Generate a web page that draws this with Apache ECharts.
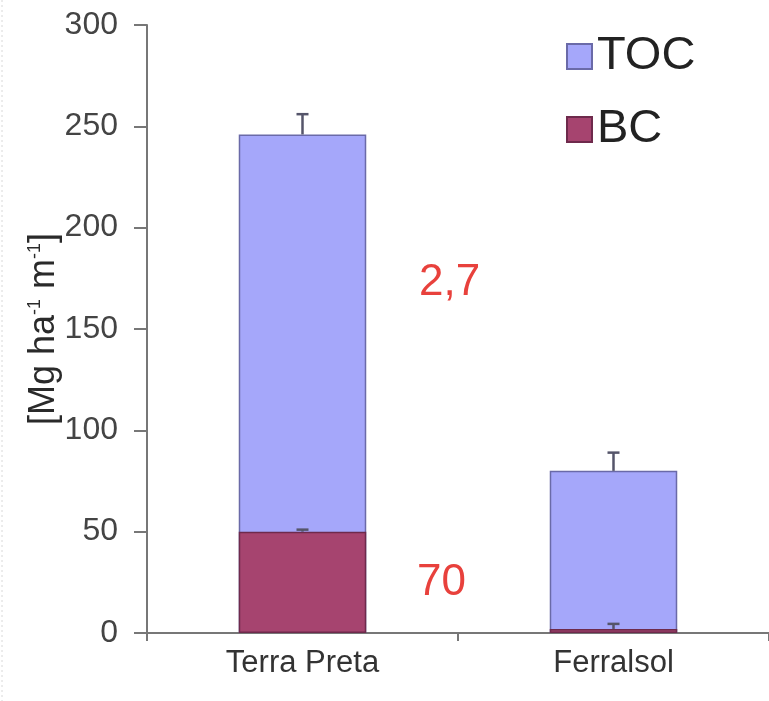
<!DOCTYPE html>
<html>
<head>
<meta charset="utf-8">
<script src="https://cdn.jsdelivr.net/npm/echarts@6/dist/echarts.min.js"></script>
<style>
  html, body { margin: 0; padding: 0; background: #fff; }
  #chart { width: 769px; height: 701px; }
</style>
</head>
<body>
<div id="chart"></div>
<script>
// Soil carbon stocks: total organic carbon vs. black carbon
const categories = ['Terra Preta', 'Ferralsol'];
const tocValues = [246, 80];     // total organic carbon, Mg ha-1 m-1
const bcValues = [50, 2];        // black carbon, Mg ha-1 m-1
const tocErrors = [10, 9];
const bcErrors = [1, 2.5];
const yTicks = [0, 50, 100, 150, 200, 250, 300];
const ratioNotes = ['2,7', '70'];

const font = '"Liberation Sans", Arial, sans-serif';

function errorSeries(values, errors) {
  return {
    type: 'custom',
    z: 5,
    silent: true,
    data: values.map((v, i) => [i, v, errors[i]]),
    renderItem(params, api) {
      const base = api.coord([api.value(0), api.value(1)]);
      const top = api.coord([api.value(0), api.value(1) + api.value(2)]);
      const half = 6;
      return {
        type: 'group',
        children: [
          { type: 'line', shape: { x1: base[0], y1: base[1], x2: top[0], y2: top[1] },
            style: { stroke: '#55556a', lineWidth: 2.5 } },
          { type: 'line', shape: { x1: top[0] - half, y1: top[1], x2: top[0] + half, y2: top[1] },
            style: { stroke: '#55556a', lineWidth: 2.5 } }
        ]
      };
    }
  };
}

const chart = echarts.init(document.getElementById('chart'));
chart.setOption({
  animation: false,
  backgroundColor: '#fff',
  grid: { left: 147, right: 0, top: 25, bottom: 68 },
  legend: {
    data: ['TOC', 'BC'],
    orient: 'vertical',
    left: 561,
    top: 28,
    itemWidth: 25,
    itemHeight: 25,
    itemGap: 26,
    icon: 'rect',
    textStyle: { fontFamily: font, fontSize: 47, color: '#222' }
  },
  xAxis: {
    type: 'category',
    data: categories,
    axisLine: { lineStyle: { color: '#777', width: 2 } },
    axisTick: { show: true, length: 8, lineStyle: { color: '#777', width: 2 } },
    axisLabel: { fontFamily: font, fontSize: 31, color: '#333', margin: 15 }
  },
  yAxis: {
    type: 'value',
    min: yTicks[0],
    max: yTicks[yTicks.length - 1],
    interval: 50,
    splitLine: { show: false },
    axisLine: { show: true, lineStyle: { color: '#777', width: 2 } },
    axisTick: { show: true, length: 13, lineStyle: { color: '#777', width: 2 } },
    axisLabel: { fontFamily: font, fontSize: 32, color: '#444', margin: 29 },
    name: '{b|[Mg ha}{s|-1}{b| m}{s|-1}{b|]}',
    nameLocation: 'middle',
    nameRotate: 90,
    nameGap: 85,
    nameMoveOverlap: false,
    nameTextStyle: {
      rich: {
        b: { fontFamily: font, fontSize: 36, color: '#2a2a2a', lineHeight: 36, verticalAlign: 'bottom' },
        s: { fontFamily: font, fontSize: 18, color: '#2a2a2a', lineHeight: 36, verticalAlign: 'top' }
      }
    }
  },
  series: [
    {
      name: 'TOC',
      type: 'bar',
      barWidth: '41%',
      data: tocValues,
      itemStyle: { color: '#a5a7fa', borderColor: '#6a6aa8', borderWidth: 1.5 }
    },
    {
      name: 'BC',
      type: 'bar',
      barWidth: '41%',
      barGap: '-100%',
      data: bcValues,
      itemStyle: { color: '#a6446f', borderColor: '#6e2a4c', borderWidth: 1.5 }
    },
    errorSeries(tocValues, tocErrors),
    errorSeries(bcValues, bcErrors)
  ],
  graphic: [
    { type: 'text', left: 419, top: 261,
      style: { text: ratioNotes[0], font: '44px ' + font, fill: '#e8413c' } },
    { type: 'text', left: 417, top: 561,
      style: { text: ratioNotes[1], font: '44px ' + font, fill: '#e8413c' } },
    { type: 'line', shape: { x1: 2, y1: 0, x2: 2, y2: 701 },
      style: { stroke: '#d8d8d8', lineWidth: 1, lineDash: [2, 3] } }
  ]
});
</script>
</body>
</html>
